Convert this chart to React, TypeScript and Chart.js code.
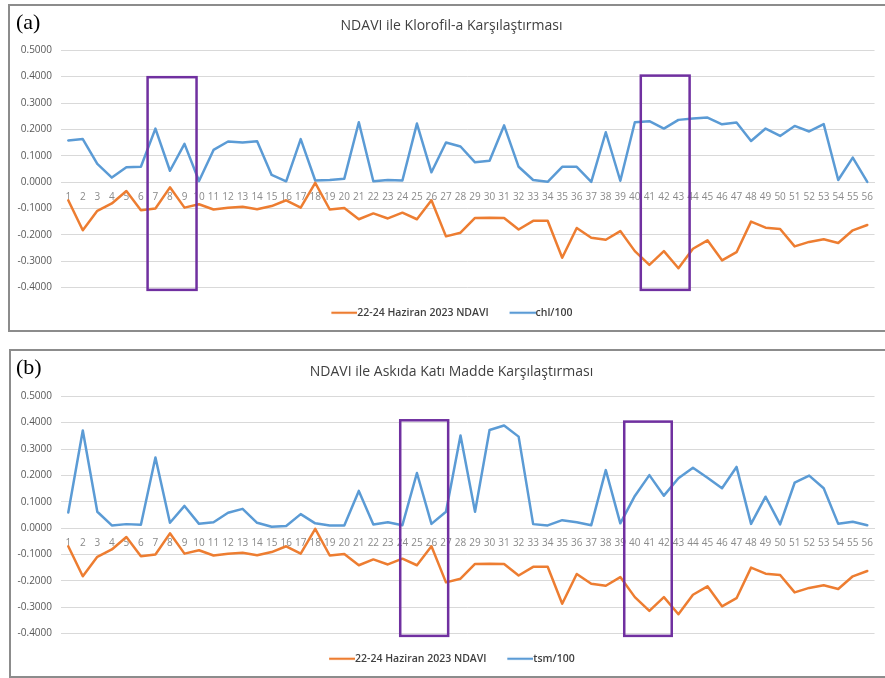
import React, { useEffect, useRef } from "react";
import { Chart, registerables } from "chart.js";

Chart.register(...registerables);

const categories = [
  "1", "2", "3", "4", "5", "6", "7", "8", "9", "10", "11", "12", "13", "14",
  "15", "16", "17", "18", "19", "20", "21", "22", "23", "24", "25", "26", "27", "28",
  "29", "30", "31", "32", "33", "34", "35", "36", "37", "38", "39", "40", "41", "42",
  "43", "44", "45", "46", "47", "48", "49", "50", "51", "52", "53", "54", "55", "56",
];

const ndaviLabel = "22-24 Haziran 2023 NDAVI";
const ndavi = [
  -0.069, -0.183, -0.109, -0.081, -0.034, -0.107, -0.100, -0.020, -0.097, -0.084,
  -0.104, -0.097, -0.094, -0.103, -0.091, -0.069, -0.097, -0.003, -0.104, -0.098,
  -0.141, -0.119, -0.138, -0.116, -0.141, -0.069, -0.206, -0.192, -0.136, -0.135,
  -0.136, -0.180, -0.147, -0.147, -0.287, -0.174, -0.211, -0.219, -0.186, -0.262,
  -0.314, -0.262, -0.327, -0.253, -0.221, -0.297, -0.266, -0.150, -0.173, -0.178,
  -0.244, -0.227, -0.217, -0.231, -0.183, -0.163,
];

const chlLabel = "chl/100";
const chl = [
  0.158, 0.163, 0.069, 0.017, 0.056, 0.058, 0.203, 0.043, 0.145, 0.004,
  0.122, 0.154, 0.150, 0.155, 0.027, 0.003, 0.163, 0.006, 0.008, 0.013,
  0.227, 0.003, 0.008, 0.006, 0.222, 0.037, 0.150, 0.135, 0.075, 0.081,
  0.215, 0.058, 0.008, 0.001, 0.058, 0.058, 0.001, 0.189, 0.005, 0.227,
  0.231, 0.203, 0.236, 0.241, 0.245, 0.219, 0.226, 0.156, 0.203, 0.175,
  0.213, 0.192, 0.220, 0.008, 0.093, 0.001,
];

const tsmLabel = "tsm/100";
const tsm = [
  0.059, 0.370, 0.062, 0.010, 0.015, 0.013, 0.268, 0.020, 0.084, 0.016,
  0.022, 0.058, 0.073, 0.020, 0.005, 0.008, 0.053, 0.018, 0.010, 0.010,
  0.141, 0.014, 0.022, 0.011, 0.209, 0.016, 0.062, 0.351, 0.062, 0.372,
  0.389, 0.347, 0.015, 0.010, 0.030, 0.022, 0.011, 0.220, 0.018, 0.122,
  0.201, 0.123, 0.189, 0.229, 0.191, 0.151, 0.232, 0.016, 0.119, 0.014,
  0.172, 0.199, 0.151, 0.016, 0.024, 0.011,
];

const yMin = -0.4;
const yMax = 0.5;
const yStep = 0.1;

// highlight boxes: category index range (0-based, fractional) and value range
const boxesA = [
  { from: 5.46, to: 8.83, top: 0.398, bottom: -0.409 },
  { from: 39.41, to: 42.77, top: 0.404, bottom: -0.409 },
];
const boxesB = [
  { from: 22.85, to: 26.15, top: 0.409, bottom: -0.409 },
  { from: 38.27, to: 41.54, top: 0.404, bottom: -0.409 },
];

const titleA = "NDAVI ile Klorofil-a Karşılaştırması";
const titleB = "NDAVI ile Askıda Katı Madde Karşılaştırması";

const FONT = "'Open Sans', 'Noto Sans', sans-serif";
const ORANGE = "#ED7D31";
const BLUE = "#5B9BD5";

const LEG_FS = 10.5;
const LEG_BOX = 21.5;

type Box = { from: number; to: number; top: number; bottom: number };

function legendLine(color: string) {
  const c = document.createElement("canvas");
  const w = Math.round(LEG_BOX + LEG_FS);
  c.width = w;
  c.height = 6;
  const g = c.getContext("2d") as CanvasRenderingContext2D;
  g.strokeStyle = color;
  g.lineWidth = 2.2;
  g.beginPath();
  g.moveTo(w - 26, 3);
  g.lineTo(w, 3);
  g.stroke();
  return c;
}

function Panel(props: {
  top: number;
  borderLeft: number;
  borderTop: number;
  borderHeight: number;
  tag: string;
  tagTop: number;
  title: string;
  label2: string;
  data2: number[];
  boxes: Box[];
}) {
  const ref = useRef<HTMLCanvasElement>(null);
  useEffect(() => {
    const boxes = props.boxes;
    const boxPlugin = {
      id: "highlightBoxes",
      afterDatasetsDraw(chart: any) {
        const { ctx, scales } = chart;
        const x = scales.x;
        const y = scales.y;
        ctx.save();
        ctx.strokeStyle = "#7030A0";
        ctx.lineWidth = 2.5;
        boxes.forEach((b) => {
          const x1 = x.getPixelForValue(b.from);
          const x2 = x.getPixelForValue(b.to);
          const y1 = y.getPixelForValue(b.top);
          const y2 = y.getPixelForValue(b.bottom);
          ctx.strokeRect(x1, y1, x2 - x1, y2 - y1);
        });
        ctx.restore();
      },
    };
    const chart = new Chart(ref.current as HTMLCanvasElement, {
      type: "line",
      data: {
        labels: categories,
        datasets: [
          {
            label: ndaviLabel,
            data: ndavi,
            borderColor: ORANGE,
            backgroundColor: ORANGE,
            borderWidth: 2.5,
            pointRadius: 0,
            pointStyle: legendLine(ORANGE),
            tension: 0,
            borderJoinStyle: "round",
            borderCapStyle: "round",
          },
          {
            label: props.label2,
            data: props.data2,
            borderColor: BLUE,
            backgroundColor: BLUE,
            borderWidth: 2.5,
            pointRadius: 0,
            pointStyle: legendLine(BLUE),
            tension: 0,
            borderJoinStyle: "round",
            borderCapStyle: "round",
          },
        ],
      },
      options: {
        responsive: false,
        animation: false,
        events: [],
        layout: { padding: { left: 11, right: 0, top: 0, bottom: 0 } },
        plugins: {
          title: {
            display: true,
            text: props.title,
            color: "#404040",
            font: { family: FONT, size: 14, weight: "normal" },
            padding: { top: 12, bottom: 15.5 },
          },
          legend: {
            position: "bottom",
            labels: {
              usePointStyle: true,
              pointStyleWidth: LEG_BOX,
              color: "#404040",
              font: { family: FONT, size: LEG_FS, weight: "600" },
              padding: 20,
            },
          },
          tooltip: { enabled: false },
        },
        scales: {
          x: {
            position: { y: 0 },
            offset: true,
            grid: { display: false, drawTicks: false },
            border: { display: true, color: "#d9d9d9", width: 1 },
            ticks: {
              autoSkip: false,
              maxRotation: 0,
              minRotation: 0,
              padding: 9,
              color: "#8a8a8a",
              font: { family: FONT, size: 10 },
            },
          },
          y: {
            min: yMin,
            max: yMax,
            ticks: {
              stepSize: yStep,
              padding: 9,
              color: "#595959",
              font: { family: FONT, size: 10 },
              callback: (v: any) => Number(v).toFixed(4),
            },
            grid: { color: "#d9d9d9", lineWidth: 1, drawTicks: false },
            border: { display: false },
            afterFit: (s: any) => {
              s.width = 40;
              s._computeLabelArea = () => undefined;
            },
          },
        },
      } as any,
      plugins: [boxPlugin],
    });
    return () => chart.destroy();
  }, []);

  return (
    <>
      <div
        style={{
          position: "absolute",
          left: props.borderLeft,
          top: props.borderTop,
          width: 885 - props.borderLeft,
          height: props.borderHeight,
          boxSizing: "border-box",
          border: "2px solid #8c8c8c",
          borderRight: "none",
          background: "#fff",
        }}
      />
      <canvas
        ref={ref}
        width={872}
        height={322}
        style={{ position: "absolute", left: 10, top: props.top, width: 872, height: 322 }}
      />
      <div
        style={{
          position: "absolute",
          left: 16,
          top: props.tagTop,
          fontFamily: "'Liberation Serif', 'DejaVu Serif', serif",
          fontSize: 22,
          lineHeight: "22px",
          color: "#000",
          whiteSpace: "nowrap",
        }}
      >
        {props.tag}
      </div>
    </>
  );
}

export default function App() {
  return (
    <div
      style={{
        position: "absolute",
        left: 0,
        top: 0,
        width: 885,
        height: 678,
        background: "#fff",
        overflow: "hidden",
      }}
    >
      <Panel
        top={6}
        borderLeft={8}
        borderTop={4}
        borderHeight={328}
        tag="(a)"
        tagTop={10.5}
        title={titleA}
        label2={chlLabel}
        data2={chl}
        boxes={boxesA}
      />
      <Panel
        top={352}
        borderLeft={9}
        borderTop={349}
        borderHeight={329}
        tag="(b)"
        tagTop={355.5}
        title={titleB}
        label2={tsmLabel}
        data2={tsm}
        boxes={boxesB}
      />
    </div>
  );
}
